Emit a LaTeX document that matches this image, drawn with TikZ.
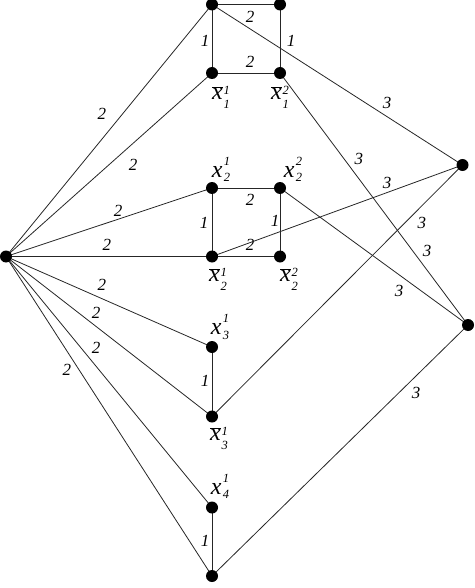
\documentclass[tikz,border=0pt]{standalone}
\usepackage{fontspec}
\setmainfont{Liberation Serif}
\newcommand\scr[1]{\hbox{\fontsize{12.5}{12.5}\selectfont\itshape #1}}
\newcommand\lit[2]{\hbox{\itshape x\kern1.3pt\rlap{\raisebox{11.8pt}{\scr{#1}}}\raisebox{-4.5pt}{\scr{#2}}}}
\newcommand\nlit[2]{\hbox{$\overline{\hbox{\itshape x}}$\kern1pt\rlap{\raisebox{5pt}{\scr{#1}}}\raisebox{-9pt}{\scr{#2}}}}
\pgfdeclarelayer{bg}
\pgfsetlayers{bg,main}
\begin{document}
\begin{tikzpicture}[x=1pt,y=-1pt,
  dot/.style={circle,fill=black,inner sep=0pt,minimum size=12pt},
  edge/.style={draw=black!85,line width=0.8pt},
  wt/.style={font=\fontsize{17}{20}\selectfont\itshape,inner sep=0pt},
  var/.style={font=\fontsize{24}{26}\selectfont,inner sep=0pt}]
\useasboundingbox (0,0) rectangle (474,588);
% vertices
\node[dot] (L)  at (6,256.5) {};
\node[dot] (a1) at (212,4.5) {};
\node[dot] (a2) at (280,4.5) {};
\node[dot] (b1) at (212,73) {};
\node[dot] (b2) at (280,73) {};
\node[dot] (c1) at (212,188) {};
\node[dot] (c2) at (280,188) {};
\node[dot] (d1) at (212,256.5) {};
\node[dot] (d2) at (280,256.5) {};
\node[dot] (e1) at (212,347) {};
\node[dot] (f1) at (212,416.5) {};
\node[dot] (g1) at (212,507.5) {};
\node[dot] (h1) at (212,576) {};
\node[dot] (R1) at (462.5,165) {};
\node[dot] (R2) at (468,325) {};
% vertex labels
\node[var,shift={(9,24)}]     at (b1) {\nlit{1}{1}};
\node[var,shift={(0,24)}]     at (b2) {\nlit{2}{1}};
\node[var,shift={(9,-18.5)}]  at (c1) {\lit{1}{2}};
\node[var,shift={(13,-18.5)}] at (c2) {\lit{2}{2}};
\node[var,shift={(6,22.5)}]   at (d1) {\nlit{1}{2}};
\node[var,shift={(9,22.5)}]   at (d2) {\nlit{2}{2}};
\node[var,shift={(8,-20)}]    at (e1) {\lit{1}{3}};
\node[var,shift={(7,22)}]     at (f1) {\nlit{1}{3}};
\node[var,shift={(8,-21)}]    at (g1) {\lit{1}{4}};
\begin{pgfonlayer}{bg}
% edges from L
\draw[edge] (L.center) -- node[wt,pos=0.466,yshift=25.1pt]{2} (a1.center);
\draw[edge] (L.center) -- node[wt,pos=0.617,yshift=-21.7pt]{2} (b1.center);
\draw[edge] (L.center) -- node[wt,pos=0.544,yshift=8.3pt]{2} (c1.center);
\draw[edge] (L.center) -- node[wt,pos=0.49,yshift=11.5pt]{2} (d1.center);
\draw[edge] (L.center) -- node[wt,pos=0.466,yshift=13.7pt]{2} (e1.center);
\draw[edge] (L.center) -- node[wt,pos=0.437,yshift=13.4pt]{2} (f1.center);
\draw[edge] (L.center) -- node[wt,pos=0.437,yshift=18.2pt]{2} (g1.center);
\draw[edge] (L.center) -- node[wt,pos=0.296,yshift=-18.9pt]{2} (h1.center);
% squares and pairs
\draw[edge] (a1.center) -- node[wt,pos=0.56,yshift=-12.5pt]{2} (a2.center);
\draw[edge] (a1.center) -- node[wt,pos=0.53,xshift=-7pt]{1} (b1.center);
\draw[edge] (a2.center) -- node[wt,pos=0.53,xshift=11pt]{1} (b2.center);
\draw[edge] (b1.center) -- node[wt,pos=0.56,yshift=11pt]{2} (b2.center);
\draw[edge] (c1.center) -- node[wt,pos=0.56,yshift=-12pt]{2} (c2.center);
\draw[edge] (c1.center) -- node[wt,pos=0.51,xshift=-8pt]{1} (d1.center);
\draw[edge] (c2.center) -- node[wt,pos=0.48,xshift=-5pt]{1} (d2.center);
\draw[edge] (d1.center) -- node[wt,pos=0.56,yshift=11.5pt]{2} (d2.center);
\draw[edge] (e1.center) -- node[wt,pos=0.49,xshift=-7pt]{1} (f1.center);
\draw[edge] (g1.center) -- node[wt,pos=0.49,xshift=-7pt]{1} (h1.center);
% edges to the right
\draw[edge] (a1.center) -- node[wt,pos=0.699,yshift=13.6pt]{3} (R1.center);
\draw[edge] (b2.center) -- node[wt,pos=0.42,yshift=19.9pt]{3}
                           node[wt,pos=0.782,yshift=19pt]{3} (R2.center);
\draw[edge] (d1.center) -- node[wt,pos=0.699,yshift=9.6pt]{3} (R1.center);
\draw[edge] (f1.center) -- node[wt,pos=0.838,yshift=-17.3pt]{3} (R1.center);
\draw[edge] (c2.center) -- node[wt,pos=0.633,yshift=-16.3pt]{3} (R2.center);
\draw[edge] (h1.center) -- node[wt,pos=0.797,yshift=-17pt]{3} (R2.center);
\end{pgfonlayer}
\end{tikzpicture}
\end{document}
